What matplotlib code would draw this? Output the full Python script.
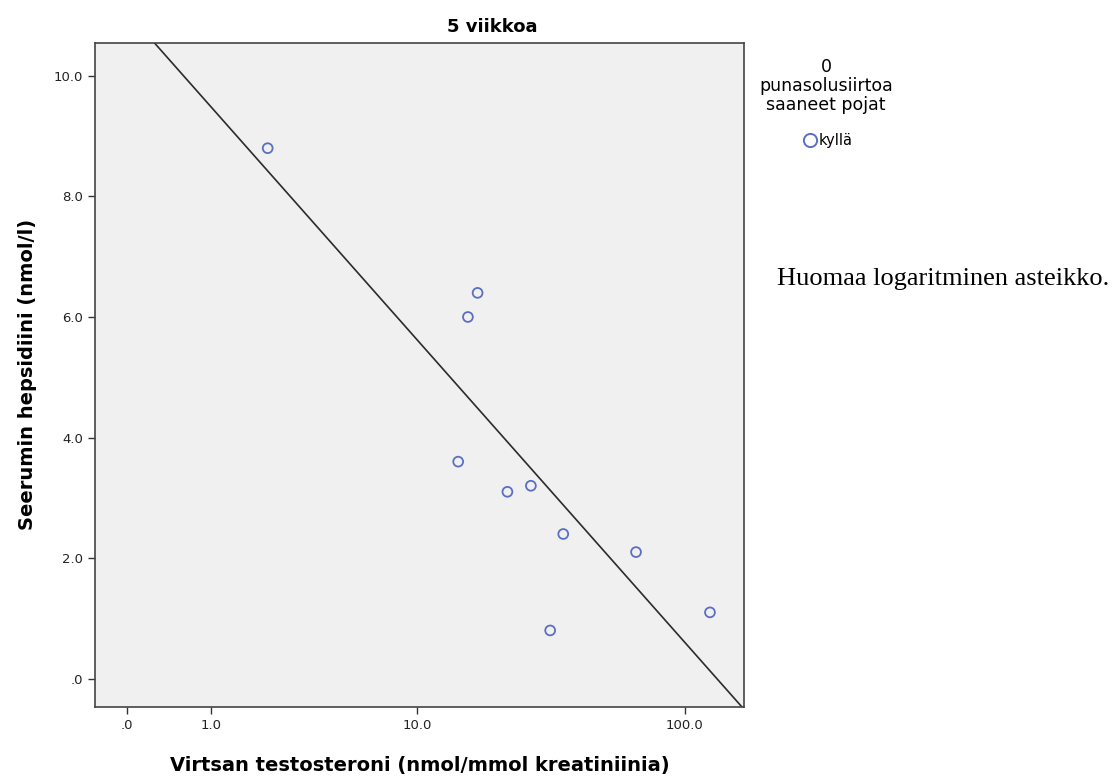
import numpy as np
import matplotlib
matplotlib.use("Agg")
import matplotlib.pyplot as plt
from matplotlib.lines import Line2D

# ─────────────────────────────────────────────
# DATA
# ─────────────────────────────────────────────
testosterone = [2.2, 17.2, 15.8, 14.5, 22.3, 27.3, 36.0, 66.6, 32.2, 123.7]
hepcidin = [8.8, 6.4, 6.0, 3.6, 3.1, 3.2, 2.4, 2.1, 0.8, 1.1]

x_ticks = [0, 1, 10, 100]
x_tick_labels = [".0", "1.0", "10.0", "100.0"]
y_ticks = [0, 2, 4, 6, 8, 10]
y_tick_labels = [".0", "2.0", "4.0", "6.0", "8.0", "10.0"]

legend_title = "0\npunasolusiirtoa\nsaaneet pojat"
group_label = "kyllä"


# SPSS "safe log" scale: sign(x) * log10(|x| + 1)
def safe_log(v):
    v = np.asarray(v, dtype=float)
    return np.sign(v) * np.log10(np.abs(v) + 1)


def safe_log_inv(t):
    t = np.asarray(t, dtype=float)
    return np.sign(t) * (10 ** np.abs(t) - 1)


W, H = 1114, 783
plt.rcParams["font.family"] = "DejaVu Sans"

fig = plt.figure(figsize=(W / 100, H / 100), dpi=100)
ax = fig.add_axes([95 / W, 1 - 707 / H, (744 - 95) / W, (707 - 42.7) / H])
ax.set_facecolor("#f0f0f0")

ax.set_xscale("function", functions=(safe_log, safe_log_inv))
ax.set_xlim(-0.306, 164.3)
ax.set_ylim(-0.47, 10.55)

# linear fit in the transformed x space
b1, b0 = np.polyfit(safe_log(testosterone), hepcidin, 1)
x_line = np.array([-0.306, 164.3])
ax.plot(x_line, b0 + b1 * safe_log(x_line), color="#2b2b2b", linewidth=1.2, zorder=2)

ax.scatter(testosterone, hepcidin, s=50, facecolors="none", edgecolors="#5a6fc4",
           linewidths=1.3, zorder=3)

ax.set_xticks(x_ticks)
ax.set_xticklabels(x_tick_labels)
ax.set_yticks(y_ticks)
ax.set_yticklabels(y_tick_labels)
ax.minorticks_off()
ax.tick_params(direction="out", length=5, width=1, color="#333333",
               labelsize=9.5, labelcolor="#222222")

for side in ax.spines.values():
    side.set_color("#444444")
    side.set_linewidth(1.2)

ax.set_xlabel("Virtsan testosteroni (nmol/mmol kreatiniinia)", fontsize=14,
              fontweight="bold", va="center")
ax.xaxis.set_label_coords(0.5, -(765 - 707) / (707 - 42.7))
ax.set_ylabel("Seerumin hepsidiini (nmol/l)", fontsize=14, fontweight="bold", va="center")
ax.yaxis.set_label_coords(-(95 - 28) / (744 - 95), 0.5)

fig.text(492 / W, 1 - 27 / H, "5 viikkoa", fontsize=13, fontweight="bold",
         ha="center", va="center")

# legend on the right
fig.text(826 / W, 1 - 86 / H, legend_title, fontsize=12.5, ha="center", va="center",
         multialignment="center", linespacing=1.1)
handle = Line2D([], [], linestyle="none", marker="o", markersize=9.5,
                markerfacecolor="none", markeredgecolor="#5a6fc4", markeredgewidth=1.4)
fig.legend([handle], [group_label], loc="center", bbox_to_anchor=(828 / W, 1 - 141 / H),
           frameon=False, fontsize=10.5, handletextpad=0.1, handlelength=1.0,
           borderpad=0, borderaxespad=0)

fig.text(777 / W, 1 - 279 / H, "Huomaa logaritminen asteikko.",
         family="Liberation Serif", fontsize=19, va="center", ha="left")

fig.savefig("out.png", dpi=100)
